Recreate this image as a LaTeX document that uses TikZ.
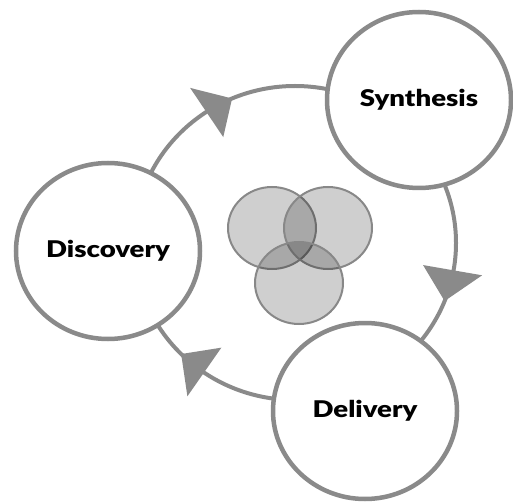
\documentclass[tikz,border=0pt]{standalone}
\usepackage{fontspec}
\setmainfont{Lato}
\newfontfamily\lblfont{Lato}[UprightFont={* Black},FakeStretch=1.2]
\usetikzlibrary{shapes.geometric,calc}
\definecolor{ringgray}{HTML}{8A8A8A}
\definecolor{venngray}{HTML}{888888}
\begin{document}
\begin{tikzpicture}[x=1pt,y=-1pt,
  ring/.style={draw=ringgray,line width=4pt},
  stage/.style={ellipse,draw=ringgray,line width=4.5pt,fill=white,minimum width=184pt,minimum height=176pt,inner sep=0pt,font=\lblfont\fontsize{23}{26}\selectfont},
  venn/.style={ellipse,draw=venngray,line width=2pt,fill=black,fill opacity=0.19,minimum width=88pt,minimum height=82pt,inner sep=0pt},
  tipfill/.style={fill=ringgray}]
\useasboundingbox (0,0) rectangle (513,502);
\coordinate (c) at (295,243);
\draw[ring] (c) ellipse [x radius=161, y radius=157];
% arrowheads (clockwise)
\fill[tipfill] ($(c)+(-113:161 and 157)$) -- ($(c)+(-123.5:130 and 127)$) -- ($(c)+(-123.5:190 and 186)$) -- cycle;
\fill[tipfill] ($(c)+(21.7:161 and 157)$) -- ($(c)+(10:130 and 127)$) -- ($(c)+(10:190 and 186)$) -- cycle;
\fill[tipfill] ($(c)+(135:161 and 157)$) -- ($(c)+(124.5:130 and 127)$) -- ($(c)+(124.5:190 and 186)$) -- cycle;
% stages
\node[stage] (disc) at (108,251) {Discovery};
\node[stage] (synth) at (419,100) {Synthesis};
\node[stage] (deliv) at (365,411) {Delivery};
% venn
\node[venn] (v1) at (272,228) {};
\node[venn] (v2) at (328,228) {};
\node[venn] (v3) at (299,283) {};
\end{tikzpicture}
\end{document}
